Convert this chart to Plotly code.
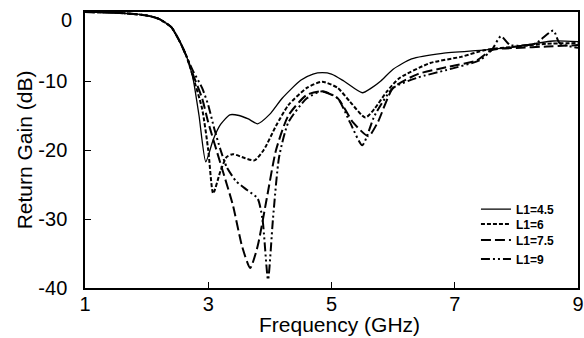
import plotly.graph_objects as go

# Frequency (GHz) and return gain (dB) for each L1 value
freq_45 = [1.0, 1.5, 2.0, 2.2, 2.4, 2.55, 2.65, 2.75, 2.85, 2.96, 3.08, 3.2, 3.35, 3.5, 3.65, 3.8, 4.0, 4.2, 4.5, 4.7, 4.85, 5.0, 5.2, 5.5, 5.65, 5.8, 6.0, 6.3, 6.8, 7.5, 8.0, 8.6, 9.0]
gain_45 = [0.0, -0.1, -0.5, -1.0, -2.2, -4.5, -6.5, -9.5, -15.0, -21.7, -18.5, -16.3, -14.9, -15.0, -15.5, -16.2, -14.8, -12.5, -9.9, -9.0, -8.8, -9.0, -10.0, -11.7, -11.0, -10.0, -8.3, -6.8, -6.0, -5.5, -5.0, -4.2, -4.3]

freq_6 = [1.0, 1.5, 2.0, 2.2, 2.4, 2.55, 2.65, 2.75, 2.9, 3.0, 3.08, 3.2, 3.3, 3.4, 3.6, 3.75, 3.9, 4.1, 4.3, 4.6, 4.85, 5.1, 5.3, 5.55, 5.7, 5.9, 6.1, 6.6, 7.1, 7.5, 8.0, 8.5, 9.0]
gain_6 = [0.0, -0.1, -0.5, -1.0, -2.2, -4.5, -6.5, -9.3, -14.0, -20.0, -26.3, -23.0, -21.0, -20.6, -21.2, -21.5, -20.0, -16.5, -13.5, -11.0, -10.1, -11.0, -13.0, -15.3, -14.0, -11.5, -9.6, -7.4, -6.5, -5.5, -5.0, -4.6, -4.5]

freq_75 = [1.0, 1.5, 2.0, 2.2, 2.4, 2.55, 2.65, 2.75, 2.9, 3.0, 3.2, 3.4, 3.55, 3.68, 3.8, 3.95, 4.1, 4.3, 4.6, 4.85, 5.1, 5.35, 5.6, 5.75, 6.0, 6.4, 6.87, 7.36, 7.6, 8.0, 8.5, 9.0]
gain_75 = [0.0, -0.1, -0.5, -1.0, -2.2, -4.5, -6.5, -9.0, -12.5, -16.0, -22.0, -28.0, -34.0, -37.1, -34.0, -27.0, -20.0, -15.0, -12.0, -11.5, -12.5, -16.0, -18.0, -16.0, -11.0, -9.0, -8.0, -7.0, -5.5, -5.2, -5.0, -4.8]

freq_9 = [1.0, 1.5, 2.0, 2.2, 2.4, 2.55, 2.65, 2.75, 2.9, 3.0, 3.1, 3.2, 3.3, 3.45, 3.63, 3.8, 3.88, 3.97, 4.05, 4.15, 4.3, 4.6, 4.85, 5.1, 5.3, 5.5, 5.7, 6.0, 6.4, 6.87, 7.4, 7.6, 7.75, 7.9, 8.3, 8.6, 8.7, 9.0]
gain_9 = [0.0, -0.1, -0.5, -1.0, -2.2, -4.5, -6.5, -8.5, -11.0, -13.5, -17.0, -20.0, -22.5, -24.5, -25.8, -27.0, -30.0, -38.8, -30.0, -21.0, -16.0, -12.5, -11.5, -12.5, -16.0, -19.3, -15.0, -11.0, -9.5, -8.4, -7.0, -5.5, -3.5, -4.8, -4.6, -2.7, -4.5, -5.2]

x_ticks = [1, 3, 5, 7, 9]
y_ticks = [-10, -20, -30, -40]
# the top "0" label sits a little below the frame edge in the original
y_top_tick = [-1.15]
y_top_label = ["0"]

series = [
    ("L1=4.5", freq_45, gain_45, "solid", 1.3, "legend"),
    ("L1=6", freq_6, gain_6, "4px,2px", 2, "legend2"),
    ("L1=7.5", freq_75, gain_75, "10px,4px", 2, "legend3"),
    ("L1=9", freq_9, gain_9, "9px,3px,2px,3px,2px,3px", 2, "legend4"),
]

fig = go.Figure()
for name, xs, ys, dash, w, lg in series:
    fig.add_trace(go.Scatter(
        x=xs, y=ys, mode="lines", name=name, legend=lg,
        line=dict(color="black", width=w, dash=dash, shape="spline", smoothing=0.6),
    ))
# empty trace so the overlay axis carrying the top "0" label is drawn
fig.add_trace(go.Scatter(x=[], y=[], yaxis="y2", showlegend=False, hoverinfo="skip"))

font_main = "Liberation Sans, Arial, sans-serif"
legend_font = dict(size=12, family=font_main, color="black", weight="bold")
legend_y = [0.286, 0.232, 0.174, 0.105]

def leg(y):
    return dict(x=0.793, y=y, xanchor="left", yanchor="middle",
                bgcolor="rgba(0,0,0,0)", font=legend_font, itemwidth=30,
                borderwidth=0)

fig.update_layout(
    width=584, height=338,
    margin=dict(l=85, r=6, t=12, b=50),
    paper_bgcolor="white", plot_bgcolor="white",
    font=dict(family=font_main, color="black", size=20),
    legend=leg(legend_y[0]),
    legend2=leg(legend_y[1]),
    legend3=leg(legend_y[2]),
    legend4=leg(legend_y[3]),
    showlegend=True,
    annotations=[dict(
        text="Frequency (GHz)", xref="paper", yref="paper",
        x=0.517, y=-0.132, xanchor="center", yanchor="middle",
        showarrow=False, font=dict(size=21, family=font_main, color="black"),
    )],
    yaxis=dict(
        range=[-40, 0], tickvals=y_ticks, ticktext=[str(v) for v in y_ticks],
        ticks="inside", ticklen=6, tickcolor="black",
        showline=True, linecolor="black", linewidth=1.5, mirror=True,
        showgrid=False, zeroline=False, automargin=False,
        title=dict(text="Return Gain (dB)", standoff=0, font=dict(size=21)),
        tickfont=dict(size=20), ticklabelstandoff=12,
    ),
    yaxis2=dict(
        overlaying="y", anchor="x", side="left", range=[-40, 0],
        tickvals=y_top_tick, ticktext=y_top_label, ticks="",
        showline=False, showgrid=False, zeroline=False, automargin=False,
        tickfont=dict(size=20), ticklabelstandoff=12,
    ),
    xaxis=dict(
        range=[1, 9], tickvals=x_ticks, ticktext=[str(v) for v in x_ticks],
        ticks="inside", ticklen=6, tickcolor="black",
        showline=True, linecolor="black", linewidth=1.5, mirror=True,
        showgrid=False, zeroline=False, automargin=False,
        tickfont=dict(size=20), ticklabelstandoff=-3,
    ),
)

fig.write_html(
    "out.html",
    config={"displayModeBar": False},
    post_script="document.body.style.margin='0';"
                "document.body.style.overflow='hidden';"
                "document.documentElement.style.overflow='hidden';",
)
